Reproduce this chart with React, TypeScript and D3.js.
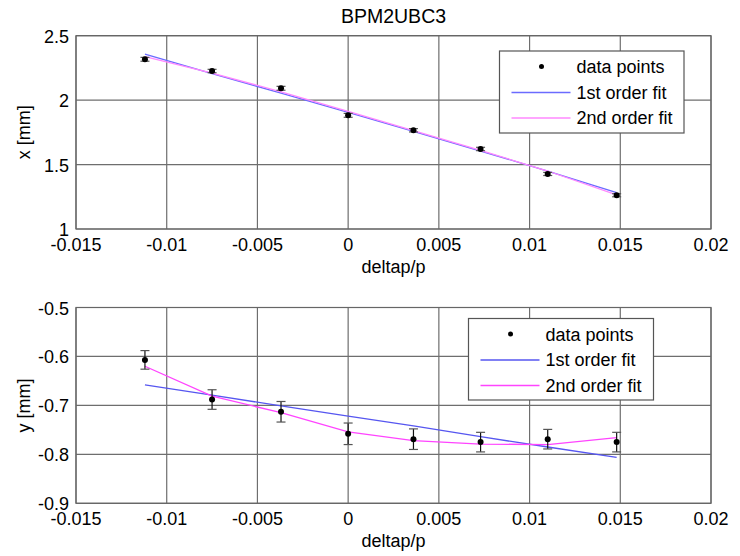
import { useEffect, useRef } from "react";
import * as d3 from "d3";

// deltap/p of each measurement
const deltap = [-0.0112, -0.0075, -0.0037, 0, 0.0036, 0.0073, 0.011, 0.0148];

// horizontal position x [mm]
const xMean = [2.317, 2.226, 2.092, 1.882, 1.766, 1.621, 1.427, 1.262];
const xErr = [0.015, 0.013, 0.015, 0.015, 0.013, 0.013, 0.012, 0.012];
const xFit1 = [2.357, 2.205, 2.055, 1.905, 1.757, 1.605, 1.45, 1.283];
const xFit2 = [2.338, 2.21, 2.065, 1.912, 1.763, 1.61, 1.45, 1.265];

// vertical position y [mm]
const yMean = [-0.607, -0.688, -0.713, -0.758, -0.769, -0.775, -0.769, -0.775];
const yErr = [0.019, 0.02, 0.021, 0.022, 0.021, 0.02, 0.02, 0.02];
const yFit1 = [-0.658, -0.679, -0.701, -0.722, -0.742, -0.764, -0.785, -0.806];
const yFit2 = [-0.62, -0.681, -0.715, -0.754, -0.772, -0.779, -0.78, -0.766];

const xTicks = [-0.015, -0.01, -0.005, 0, 0.005, 0.01, 0.015, 0.02];
const topTicks = [1, 1.5, 2, 2.5];
const bottomTicks = [-0.9, -0.8, -0.7, -0.6, -0.5];
const legendLabels = ["data points", "1st order fit", "2nd order fit"];

const width = 740;
const height = 556;
const font = "'Liberation Sans', Arial, sans-serif";

const App = () => {
    const ref = useRef<SVGSVGElement>(null);

    useEffect(() => {
        const svg = d3.select(ref.current);
        svg.selectAll("*").remove();

        const x = d3.scaleLinear().domain([-0.015, 0.02]).range([76, 711]);

        const panel = (
            top: number, bottom: number, domain: number[], ticks: number[],
            mean: number[], err: number[], fit1: number[], fit2: number[],
            ylabel: string, legend: { x: number; y: number; w: number; h: number },
            blue: string, pink: string
        ) => {
            const y = d3.scaleLinear().domain(domain).range([bottom, top]);
            const g = svg.append("g");

            // grid
            g.selectAll(".gx").data(xTicks).join("line")
                .attr("x1", d => x(d)).attr("x2", d => x(d))
                .attr("y1", top).attr("y2", bottom)
                .attr("stroke", "#6e6e6e").attr("stroke-width", 1.2);
            g.selectAll(".gy").data(ticks).join("line")
                .attr("x1", 76).attr("x2", 711)
                .attr("y1", d => y(d)).attr("y2", d => y(d))
                .attr("stroke", "#6e6e6e").attr("stroke-width", 1.2);
            g.append("rect")
                .attr("x", 76).attr("y", top).attr("width", 635).attr("height", bottom - top)
                .attr("fill", "none").attr("stroke", "#666").attr("stroke-width", 1.2);

            // tick labels
            g.selectAll(".tx").data(xTicks).join("text")
                .attr("x", d => x(d)).attr("y", bottom + 22)
                .attr("text-anchor", "middle")
                .style("font-family", font).style("font-size", "18px")
                .text(d => String(d));
            g.selectAll(".ty").data(ticks).join("text")
                .attr("x", 69).attr("y", d => y(d) + 7)
                .attr("text-anchor", "end")
                .style("font-family", font).style("font-size", "18px")
                .text(d => String(d));

            g.append("text")
                .attr("x", 393.5).attr("y", bottom + 44)
                .attr("text-anchor", "middle")
                .style("font-family", font).style("font-size", "18px")
                .text("deltap/p");
            g.append("text")
                .attr("transform", `translate(30,${(top + bottom) / 2}) rotate(-90)`)
                .attr("text-anchor", "middle")
                .style("font-family", font).style("font-size", "18px")
                .text(ylabel);

            // fit lines
            const line = (vals: number[]) =>
                d3.line<number>().x((_, i) => x(deltap[i])).y(d => y(d))(vals);
            g.append("path").attr("d", line(fit1)).attr("fill", "none")
                .attr("stroke", blue).attr("stroke-width", 1.3);
            g.append("path").attr("d", line(fit2)).attr("fill", "none")
                .attr("stroke", pink).attr("stroke-width", 1.3);

            // error bars
            const eb = g.selectAll(".eb").data(mean).join("g");
            eb.append("line")
                .attr("x1", (_, i) => x(deltap[i])).attr("x2", (_, i) => x(deltap[i]))
                .attr("y1", (d, i) => y(d - err[i])).attr("y2", (d, i) => y(d + err[i]))
                .attr("stroke", "#111").attr("stroke-width", 1.2);
            [-1, 1].forEach(s => {
                eb.append("line")
                    .attr("x1", (_, i) => x(deltap[i]) - 4.5).attr("x2", (_, i) => x(deltap[i]) + 4.5)
                    .attr("y1", (d, i) => y(d + s * err[i])).attr("y2", (d, i) => y(d + s * err[i]))
                    .attr("stroke", "#555").attr("stroke-width", 1.2);
            });
            eb.append("circle")
                .attr("cx", (_, i) => x(deltap[i])).attr("cy", d => y(d))
                .attr("r", 3).attr("fill", "#000");

            // legend
            const lg = g.append("g").attr("transform", `translate(${legend.x},${legend.y})`);
            lg.append("rect").attr("width", legend.w).attr("height", legend.h)
                .attr("fill", "#fff").attr("stroke", "#555").attr("stroke-width", 1.2);
            lg.append("circle").attr("cx", 42).attr("cy", 15.5).attr("r", 2.5).attr("fill", "#000");
            lg.append("line").attr("x1", 12).attr("x2", 71).attr("y1", 41.5).attr("y2", 41.5)
                .attr("stroke", blue).attr("stroke-width", 1.5);
            lg.append("line").attr("x1", 12).attr("x2", 71).attr("y1", 67).attr("y2", 67)
                .attr("stroke", pink).attr("stroke-width", 1.5);
            lg.selectAll(".lt").data(legendLabels).join("text")
                .attr("x", 77).attr("y", (_, i) => 22 + i * 25.5)
                .style("font-family", font).style("font-size", "18px")
                .text(d => d);
        };

        panel(35.7, 229, [1, 2.5], topTicks, xMean, xErr, xFit1, xFit2, "x [mm]",
            { x: 499.5, y: 51, w: 184.5, h: 82 }, "#6b6bff", "#ff88ff");
        panel(307.5, 503.3, [-0.9, -0.5], bottomTicks, yMean, yErr, yFit1, yFit2, "y [mm]",
            { x: 468.5, y: 318.5, w: 185, h: 81.5 }, "#5656f0", "#ff44ff");

        svg.append("text")
            .attr("x", 393.5).attr("y", 22.5)
            .attr("text-anchor", "middle")
            .style("font-family", font).style("font-size", "19.5px")
            .text("BPM2UBC3");
    }, []);

    return (
        <svg ref={ref} width={width} height={height}
            style={{ position: "absolute", left: 0, top: 0, background: "#fff" }} />
    );
};

export default App;
